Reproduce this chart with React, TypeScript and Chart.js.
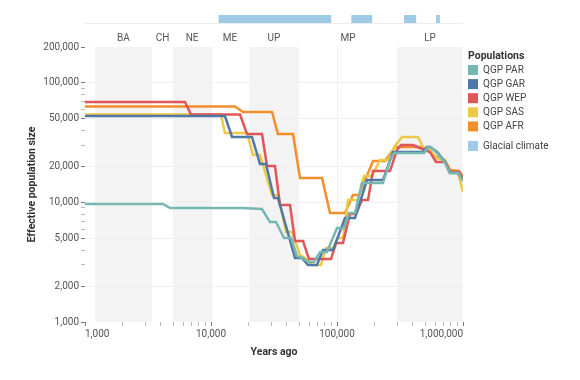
import React, { useEffect, useRef } from "react";
import { Chart, registerables } from "chart.js";

Chart.register(...registerables);

const FONT = "Roboto, 'Noto Sans', sans-serif";

// ---- axis ticks ----
const xTickValues = [
  1000, 2000, 3000, 4000, 5000, 6000, 7000, 8000, 9000,
  10000, 20000, 30000, 40000, 50000, 60000, 70000, 80000, 90000,
  100000, 200000, 300000, 400000, 500000, 600000, 700000, 800000, 900000,
  1000000,
];
const xLabelValues = [1000, 10000, 100000, 1000000];
const xGridValues = [10000, 100000];

const yTickValues = [
  1000, 2000, 3000, 4000, 5000, 6000, 7000, 8000, 9000,
  10000, 20000, 30000, 40000, 50000, 60000, 70000, 80000, 90000,
  100000, 200000,
];
const yLabelValues = [1000, 2000, 5000, 10000, 20000, 50000, 100000, 200000];
const yGridValues = [2000, 5000, 10000, 20000, 50000, 100000];

// ---- archaeological periods (years ago) ----
const periodNames = ["BA", "CH", "NE", "ME", "UP", "MP", "LP"];
const periodStart = [1200, 3400, 5000, 10000, 20000, 50000, 300000];
const periodEnd = [3400, 5000, 10000, 20000, 50000, 300000, 1000000];
const periodShaded = [true, false, true, false, true, false, true];

// ---- glacial climate intervals (years ago) ----
const glacialStart = [11500, 130000, 340000, 610000];
const glacialEnd = [90000, 190000, 425000, 655000];

// ---- series ----
const seriesNames = ["QGP PAR", "QGP GAR", "QGP WEP", "QGP SAS", "QGP AFR"];
const seriesColors = ["#76b7b2", "#4e79a7", "#e15759", "#edc948", "#f28e2b"];
const glacialLabel = "Glacial climate";
const glacialColor = "#a0cbe8";

const parYears = [1000, 4160, 4730, 17620, 25400, 29400, 32800, 37960, 43150, 48150, 53730, 58870, 65700, 73300, 83300, 100000, 113650, 124500, 138950, 157890, 231860, 263400, 283400, 490400, 527700, 557200, 621900, 719700, 788500, 912600, 1000000];
const parNe = [9710, 9710, 8990, 8990, 8820, 6860, 6860, 5040, 5040, 3560, 3430, 3170, 3170, 3850, 3850, 6120, 6120, 8160, 8160, 14560, 14560, 22670, 25940, 25940, 29120, 29120, 25940, 21400, 17640, 17640, 15120];

const garYears = [1000, 12910, 14680, 21160, 24490, 27320, 31620, 34020, 46420, 52760, 58870, 69390, 77430, 92990, 115740, 138950, 173000, 231860, 278250, 481500, 518000, 547000, 621900, 719700, 788500, 912600, 1000000];
const garNe = [52920, 52920, 35310, 35310, 20990, 20990, 10900, 10900, 3430, 3430, 3000, 3000, 4000, 4000, 7410, 7410, 15420, 15420, 26450, 26450, 29120, 29120, 26450, 21820, 17640, 17640, 15420];

const wepYears = [1000, 6220, 6940, 17000, 19310, 25400, 27830, 32200, 35290, 42360, 46420, 53730, 59950, 89640, 98200, 111600, 126800, 141500, 157890, 176230, 193070, 263400, 299400, 322000, 401000, 455900, 547000, 610600, 719700, 788500, 929400, 1000000];
const wepNe = [69300, 69300, 54500, 54500, 37410, 37410, 20200, 20200, 9520, 9520, 4760, 4760, 3360, 3360, 4580, 4580, 8010, 8010, 10500, 10500, 18340, 18340, 27480, 30270, 30270, 28560, 26450, 21820, 21820, 17990, 17990, 16030];

const sasYears = [1000, 12000, 12910, 19310, 21540, 24490, 30490, 34020, 39380, 43950, 50860, 55720, 63330, 74650, 81800, 92990, 101800, 111600, 122300, 146800, 163800, 189600, 219400, 254000, 288650, 328000, 439500, 481500, 547000, 610600, 719700, 774300, 912600, 1000000];
const sasNe = [54480, 54480, 38140, 38140, 24970, 24970, 11550, 11550, 5660, 5660, 3630, 3430, 3000, 3000, 4160, 4160, 5040, 5040, 10500, 10500, 16650, 16650, 22670, 22670, 29690, 35310, 35310, 29120, 27480, 23560, 22670, 17990, 17640, 12230];

const afrYears = [1000, 15500, 17950, 30490, 34020, 44760, 50860, 76030, 88000, 115740, 133970, 149450, 193070, 240440, 288650, 455900, 527700, 610600, 719700, 788500, 929400, 1000000];
const afrNe = [63560, 63560, 57170, 57170, 37410, 37410, 16030, 16030, 8160, 8160, 11550, 11550, 22230, 22230, 29120, 29120, 27480, 24020, 22670, 18690, 18340, 16340];

const seriesYears = [parYears, garYears, wepYears, sasYears, afrYears];
const seriesNe = [parNe, garNe, wepNe, sasNe, afrNe];

const fmt = (v: number) => v.toLocaleString("en-US");

const decorPlugin = {
  id: "decor",
  beforeDraw(chart: any) {
    const { ctx, chartArea, scales } = chart;
    const x = scales.x;
    ctx.save();
    // period shading
    ctx.fillStyle = "#f3f3f3";
    for (let i = 0; i < periodNames.length; i++) {
      if (!periodShaded[i]) continue;
      const x0 = x.getPixelForValue(periodStart[i]);
      const x1 = x.getPixelForValue(periodEnd[i]);
      ctx.fillRect(x0, chartArea.top, x1 - x0, chartArea.bottom - chartArea.top);
    }
    // period labels
    ctx.font = `10px ${FONT}`;
    ctx.fillStyle = "#555";
    ctx.textAlign = "center";
    ctx.textBaseline = "middle";
    for (let i = 0; i < periodNames.length; i++) {
      const x0 = x.getPixelForValue(periodStart[i]);
      const x1 = x.getPixelForValue(periodEnd[i]);
      ctx.fillText(periodNames[i], (x0 + x1) / 2, chartArea.top - 9);
    }
    // glacial climate track
    ctx.strokeStyle = "#ededed";
    ctx.lineWidth = 1;
    ctx.beginPath();
    ctx.moveTo(chartArea.left, chartArea.top - 23.5);
    ctx.lineTo(chartArea.right, chartArea.top - 23.5);
    ctx.stroke();
    ctx.fillStyle = glacialColor;
    for (let i = 0; i < glacialStart.length; i++) {
      const x0 = x.getPixelForValue(glacialStart[i]);
      const x1 = x.getPixelForValue(glacialEnd[i]);
      ctx.fillRect(x0, chartArea.top - 32, x1 - x0, 8);
    }
    ctx.restore();
  },
  afterDraw(chart: any) {
    const { ctx, chartArea } = chart;
    const lx = chartArea.right + 5;
    const ty = chartArea.top;
    ctx.save();
    ctx.textAlign = "left";
    ctx.textBaseline = "middle";
    ctx.font = `bold 10.5px ${FONT}`;
    ctx.fillStyle = "#333";
    ctx.fillText("Populations", lx, ty + 9);
    ctx.font = `10px ${FONT}`;
    for (let i = 0; i < seriesNames.length; i++) {
      const ry = ty + 23 + i * 14.1;
      ctx.fillStyle = seriesColors[i];
      ctx.fillRect(lx, ry - 5, 10, 10);
      ctx.fillStyle = "#444";
      ctx.fillText(seriesNames[i], lx + 15, ry);
    }
    const gy = ty + 99;
    ctx.fillStyle = glacialColor;
    ctx.fillRect(lx, gy - 5, 10, 10);
    ctx.fillStyle = "#444";
    ctx.fillText(glacialLabel, lx + 15, gy);
    ctx.restore();
  },
};

export default function App() {
  const ref = useRef<HTMLCanvasElement | null>(null);

  useEffect(() => {
    if (!ref.current) return;
    const datasets = seriesNames.map((name, i) => ({
      label: name,
      data: seriesYears[i].map((yr, j) => ({ x: yr, y: seriesNe[i][j] })),
      borderColor: seriesColors[i],
      backgroundColor: seriesColors[i],
      borderWidth: 2.5,
      pointRadius: 0,
      tension: 0,
      fill: false,
    }));

    const chart = new Chart(ref.current, {
      type: "line",
      data: { datasets },
      plugins: [decorPlugin],
      options: {
        animation: false,
        responsive: false,
        events: [],
        layout: { padding: { left: 0, right: 117, top: 47, bottom: 13 } },
        plugins: { legend: { display: false }, tooltip: { enabled: false } },
        scales: {
          x: {
            type: "logarithmic",
            min: 1000,
            max: 1000000,
            afterBuildTicks: (s: any) => {
              s.ticks = xTickValues.map((v) => ({ value: v }));
            },
            afterFit: (s: any) => {
              s.height = 45;
            },
            border: { display: false },
            grid: {
              color: (c: any) => (c.tick && xGridValues.includes(c.tick.value) ? "#efefef" : "rgba(0,0,0,0)"),
              tickColor: (c: any) => (c.tick && xLabelValues.includes(c.tick.value) ? "#777" : "#bbb"),
              tickLength: 4,
              lineWidth: 1,
            },
            ticks: {
              autoSkip: false,
              maxRotation: 0,
              align: "inner",
              padding: 2,
              color: "#555",
              font: { family: FONT, size: 10 },
              callback: (v: any) => (xLabelValues.includes(Number(v)) ? fmt(Number(v)) : ""),
            },
            title: {
              display: true,
              text: "Years ago",
              color: "#333",
              font: { family: FONT, size: 10.5, weight: "bold" },
              padding: { top: 0, bottom: 8 },
            },
          },
          y: {
            type: "logarithmic",
            min: 1000,
            max: 200000,
            afterBuildTicks: (s: any) => {
              s.ticks = yTickValues.map((v) => ({ value: v }));
            },
            afterFit: (s: any) => {
              s.width = 85;
            },
            border: { display: false },
            grid: {
              color: (c: any) => (c.tick && yGridValues.includes(c.tick.value) ? "#f0f0f0" : "rgba(0,0,0,0)"),
              tickColor: (c: any) => (c.tick && yLabelValues.includes(c.tick.value) ? "#777" : "#bbb"),
              tickLength: 4,
              lineWidth: 1,
            },
            ticks: {
              autoSkip: false,
              padding: 2,
              color: "#555",
              font: { family: FONT, size: 10 },
              callback: (v: any) => (yLabelValues.includes(Number(v)) ? fmt(Number(v)) : ""),
            },
            title: {
              display: true,
              text: "Effective population size",
              color: "#333",
              font: { family: FONT, size: 10.5, weight: "bold" },
              padding: { top: 26, bottom: 0 },
            },
          },
        },
      } as any,
    });
    return () => chart.destroy();
  }, []);

  return (
    <div style={{ position: "absolute", left: 0, top: 0, width: 580, height: 380, background: "#fff" }}>
      <canvas ref={ref} width={580} height={380} style={{ display: "block", width: 580, height: 380 }} />
    </div>
  );
}
